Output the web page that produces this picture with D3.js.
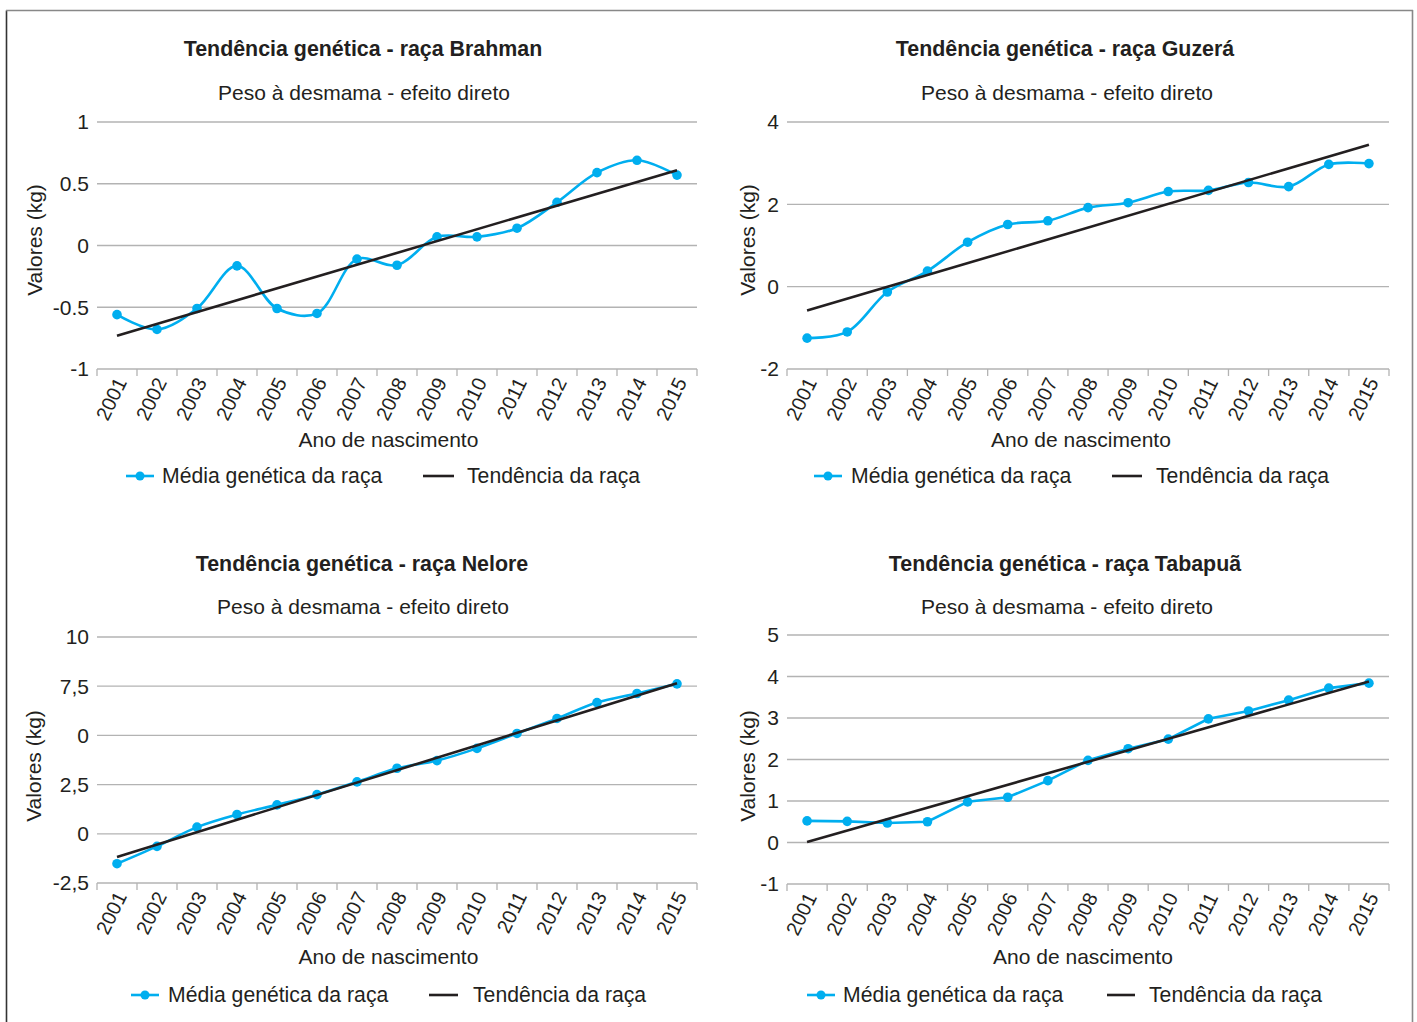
<!DOCTYPE html>
<html>
<head>
<meta charset="utf-8">
<script src="https://cdn.jsdelivr.net/npm/d3@7"></script>
<style>
  body { margin: 0; background: #fff; }
  svg text { font-family: "Liberation Sans", Arial, sans-serif; fill: #231f20; }
</style>
</head>
<body>
<svg id="vis"></svg>
<script>
const WIDTH = 1417;
const HEIGHT = 1022;
const BLUE = "#00aeef";
const GRID = "#b3b3b3";
const DARK = "#231f20";

const years = ["2001", "2002", "2003", "2004", "2005", "2006", "2007", "2008",
               "2009", "2010", "2011", "2012", "2013", "2014", "2015"];

const brahmanValues = [-0.56, -0.68, -0.51, -0.165, -0.51, -0.55, -0.11, -0.16,
                       0.07, 0.07, 0.14, 0.35, 0.59, 0.69, 0.57];
const guzeraValues = [-1.25, -1.10, -0.13, 0.38, 1.08, 1.51, 1.60, 1.92,
                      2.04, 2.31, 2.34, 2.53, 2.43, 2.97, 2.99];
const neloreValues = [-1.52, -0.64, 0.34, 0.98, 1.47, 1.99, 2.64, 3.33,
                      3.72, 4.34, 5.10, 5.86, 6.67, 7.13, 7.62];
const tabapuaValues = [0.52, 0.51, 0.47, 0.50, 0.98, 1.09, 1.49, 1.98,
                       2.26, 2.49, 2.98, 3.17, 3.43, 3.72, 3.84];

// trend line value at 2001 and at 2015
const brahmanTrend = [-0.73, 0.61];
const guzeraTrend = [-0.58, 3.45];
const neloreTrend = [-1.18, 7.65];
const tabapuaTrend = [0.01, 3.88];

const brahmanTicks = [-1, -0.5, 0, 0.5, 1];
const brahmanTickLabels = ["-1", "-0.5", "0", "0.5", "1"];
const guzeraTicks = [-2, 0, 2, 4];
const guzeraTickLabels = ["-2", "0", "2", "4"];
const neloreTicks = [-2.5, 0, 2.5, 5, 7.5, 10];
const neloreTickLabels = ["-2,5", "0", "2,5", "0", "7,5", "10"];
const tabapuaTicks = [-1, 0, 1, 2, 3, 4, 5];
const tabapuaTickLabels = ["-1", "0", "1", "2", "3", "4", "5"];

const titles = ["Tendência genética - raça Brahman", "Tendência genética - raça Guzerá",
                "Tendência genética - raça Nelore", "Tendência genética - raça Tabapuã"];
const SUBTITLE = "Peso à desmama - efeito direto";
const X_TITLE = "Ano de nascimento";
const Y_TITLE = "Valores (kg)";
const legendLabels = ["Média genética da raça", "Tendência da raça"];

const svg = d3.select("#vis")
    .attr("width", WIDTH)
    .attr("height", HEIGHT);

// frame round the figure
svg.append("line").attr("x1", 6.5).attr("y1", 10.5).attr("x2", 6.5).attr("y2", HEIGHT)
    .attr("stroke", "#333").attr("stroke-width", 1.6);
svg.append("line").attr("x1", 6).attr("y1", 10.5).attr("x2", 1413).attr("y2", 10.5)
    .attr("stroke", "#888").attr("stroke-width", 1.6);
svg.append("line").attr("x1", 1412.5).attr("y1", 10).attr("x2", 1412.5).attr("y2", HEIGHT)
    .attr("stroke", "#888").attr("stroke-width", 1.6);

const panels = [
    {values: brahmanValues, trend: brahmanTrend, ticks: brahmanTicks, labels: brahmanTickLabels,
     title: titles[0], smooth: true,
     left: 97, right: 697, top: 122, bottom: 369, titleX: 363, titleY: 56, subX: 364, subY: 100,
     xTitleX: 388.5, xTitleY: 447, yTitleX: 42, yTitleY: 240,
     legendY: 476, leg: [126, 154, 162, 423, 454, 467]},
    {values: guzeraValues, trend: guzeraTrend, ticks: guzeraTicks, labels: guzeraTickLabels,
     title: titles[1], smooth: true,
     left: 787, right: 1389, top: 122, bottom: 369, titleX: 1065, titleY: 56, subX: 1067, subY: 100,
     xTitleX: 1081, xTitleY: 447, yTitleX: 755, yTitleY: 240,
     legendY: 476, leg: [814, 842, 851, 1112, 1142, 1156]},
    {values: neloreValues, trend: neloreTrend, ticks: neloreTicks, labels: neloreTickLabels,
     title: titles[2], smooth: true,
     left: 97, right: 697, top: 637, bottom: 883, titleX: 362, titleY: 571, subX: 363, subY: 614,
     xTitleX: 388.5, xTitleY: 964, yTitleX: 41, yTitleY: 766,
     legendY: 995, leg: [131, 159, 168, 429, 458, 473]},
    {values: tabapuaValues, trend: tabapuaTrend, ticks: tabapuaTicks, labels: tabapuaTickLabels,
     title: titles[3], smooth: false,
     left: 787, right: 1389, top: 635, bottom: 884, titleX: 1065, titleY: 571, subX: 1067, subY: 614,
     xTitleX: 1083, xTitleY: 964, yTitleX: 755, yTitleY: 766,
     legendY: 995, leg: [807, 835, 843, 1107, 1135, 1149]}
];

panels.forEach(drawPanel);

function drawPanel(p) {
    const g = svg.append("g");

    const x = d3.scaleBand().domain(years).range([p.left, p.right]).padding(0);
    const y = d3.scaleLinear()
        .domain([p.ticks[0], p.ticks[p.ticks.length - 1]])
        .range([p.bottom, p.top]);
    const cx = d => x(d) + x.bandwidth() / 2;

    // titles
    g.append("text").attr("x", p.titleX).attr("y", p.titleY)
        .attr("text-anchor", "middle").attr("font-size", 21.4).attr("font-weight", "bold")
        .text(p.title);
    g.append("text").attr("x", p.subX).attr("y", p.subY)
        .attr("text-anchor", "middle").attr("font-size", 21)
        .text(SUBTITLE);

    // gridlines + y tick labels
    p.ticks.forEach((t, i) => {
        g.append("line")
            .attr("x1", p.left).attr("x2", p.right)
            .attr("y1", y(t)).attr("y2", y(t))
            .attr("stroke", GRID).attr("stroke-width", 1.3);
        g.append("text")
            .attr("x", p.left - 8).attr("y", y(t)).attr("dy", "0.35em")
            .attr("text-anchor", "end").attr("font-size", 21)
            .text(p.labels[i]);
    });

    // x tick marks at band edges
    const edges = years.map(d => x(d)).concat([p.right]);
    edges.forEach(e => {
        g.append("line")
            .attr("x1", e).attr("x2", e)
            .attr("y1", p.bottom).attr("y2", p.bottom + 7)
            .attr("stroke", GRID).attr("stroke-width", 1.3);
    });

    // rotated year labels
    years.forEach(d => {
        g.append("text")
            .attr("transform", `translate(${cx(d) + 4},${p.bottom + 10}) rotate(-64)`)
            .attr("text-anchor", "end").attr("dy", "0.35em")
            .attr("font-size", 20)
            .text(d);
    });

    g.append("text").attr("x", p.xTitleX).attr("y", p.xTitleY)
        .attr("text-anchor", "middle").attr("font-size", 21)
        .text(X_TITLE);
    g.append("text")
        .attr("transform", `translate(${p.yTitleX},${p.yTitleY}) rotate(-90)`)
        .attr("text-anchor", "middle").attr("font-size", 21)
        .text(Y_TITLE);

    // series line
    const line = d3.line()
        .x((v, i) => cx(years[i]))
        .y(v => y(v))
        .curve(p.smooth ? d3.curveCatmullRom.alpha(0.5) : d3.curveLinear);
    g.append("path")
        .attr("d", line(p.values))
        .attr("fill", "none").attr("stroke", BLUE).attr("stroke-width", 2.6);
    g.selectAll(null).data(p.values).join("circle")
        .attr("cx", (v, i) => cx(years[i]))
        .attr("cy", v => y(v))
        .attr("r", 4.8)
        .attr("fill", BLUE);

    // trend line
    g.append("line")
        .attr("x1", cx(years[0])).attr("y1", y(p.trend[0]))
        .attr("x2", cx(years[years.length - 1])).attr("y2", y(p.trend[1]))
        .attr("stroke", DARK).attr("stroke-width", 2.6);

    // legend
    const L = p.leg;
    g.append("line").attr("x1", L[0]).attr("x2", L[1]).attr("y1", p.legendY).attr("y2", p.legendY)
        .attr("stroke", BLUE).attr("stroke-width", 2.6);
    g.append("circle").attr("cx", (L[0] + L[1]) / 2).attr("cy", p.legendY).attr("r", 4.5)
        .attr("fill", BLUE);
    g.append("text").attr("x", L[2]).attr("y", p.legendY).attr("dy", "0.35em")
        .attr("font-size", 21.2).text(legendLabels[0]);
    g.append("line").attr("x1", L[3]).attr("x2", L[4]).attr("y1", p.legendY).attr("y2", p.legendY)
        .attr("stroke", DARK).attr("stroke-width", 2.6);
    g.append("text").attr("x", L[5]).attr("y", p.legendY).attr("dy", "0.35em")
        .attr("font-size", 21.2).text(legendLabels[1]);
}
</script>
</body>
</html>
